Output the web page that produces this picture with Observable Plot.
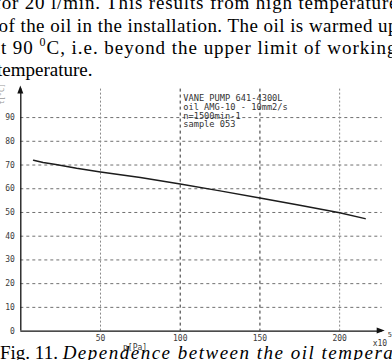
<!DOCTYPE html>
<html>
<head>
<meta charset="utf-8">
<script src="https://cdn.jsdelivr.net/npm/d3@7"></script>
<script src="https://cdn.jsdelivr.net/npm/@observablehq/plot@0.6"></script>
<style>
  html, body { margin: 0; padding: 0; background: #fff; }
  #chart { position: relative; width: 392px; height: 360px; overflow: hidden; }
</style>
</head>
<body>
<div id="chart"></div>
<script>
// --- data ---
const pressure = [8, 14, 22, 35, 50, 75, 100, 125, 150, 175, 200, 216];               // p [Pa] x10^5
const temperature = [72, 71.1, 70.2, 68.6, 67.1, 64.7, 62, 59.1, 56.1, 53, 49.9, 47.4]; // t [°C]
const xTicks = [50, 100, 150, 200];
const yTicks = [0, 10, 20, 30, 40, 50, 60, 70, 80, 90];
const gridY = [10, 20, 30, 40, 50, 60, 70, 80, 90];
const gridXDark = [100, 150];
const gridXLight = [50, 200];
const legendLines = ["VANE PUMP 641-4300L", "oil AMG-10 - 10mm2/s", "n=1500min-1", "sample 053"];
const bodyLines = [
  "for 20 l/min. This results from high temperature",
  "of the oil in the installation. The oil is warmed up",
  "at 90 |0|C, i.e. beyond the upper limit of working",
  "temperature."
];
const captionStart = "Fig. 11. ";
const captionRest = "Dependence between the oil temperature";

const data = pressure.map((p, i) => ({p, t: temperature[i]}));
const MONO = "'DejaVu Sans Mono', 'Liberation Mono', monospace";
const SERIF = "'Liberation Serif', 'Times New Roman', serif";

const plot = Plot.plot({
  width: 392,
  height: 360,
  marginLeft: 20.3,
  marginRight: 10.3,
  marginTop: 88.6,
  marginBottom: 29.4,
  style: {fontFamily: MONO, fontSize: "8px", background: "#fff", color: "#3a3a3a"},
  x: {domain: [0, 226.7], ticks: xTicks, tickSize: 0, tickPadding: 4, label: null},
  y: {domain: [0, 102], ticks: yTicks, tickSize: 0, tickPadding: 6, label: null},
  marks: [
    Plot.ruleY(gridY, {stroke: "#707070", strokeDasharray: "3,3", strokeWidth: 1}),
    Plot.ruleX(gridXLight, {stroke: "#8a8a8a", strokeDasharray: "2,2", strokeWidth: 1}),
    Plot.ruleX(gridXDark, {stroke: "#2e2e2e", strokeDasharray: "3,3", strokeWidth: 1}),
    Plot.ruleY([0], {stroke: "#111", strokeWidth: 1.3}),
    Plot.ruleX([0], {stroke: "#111", strokeWidth: 1.3}),
    Plot.line(data, {x: "p", y: "t", stroke: "#1c1c1c", strokeWidth: 1.5})
  ]
});

document.getElementById("chart").appendChild(plot);

const svg = d3.select(plot);
const sx = plot.scale("x").apply, sy = plot.scale("y").apply;
const x0 = sx(0), y0 = sy(0), xTop = sy(102), xEnd = sx(226.7);

// arrowheads on axes
svg.append("path")
  .attr("d", `M${x0},${xTop - 3} L${x0 - 3},${xTop + 5} L${x0 + 3},${xTop + 5} Z`)
  .attr("fill", "#111");
svg.append("path")
  .attr("d", `M${xEnd + 3},${y0} L${xEnd - 5},${y0 - 3} L${xEnd - 5},${y0 + 3} Z`)
  .attr("fill", "#111");

function addText(x, y, str, opts) {
  const t = svg.append("text").attr("x", x).attr("y", y)
    .attr("text-anchor", opts.anchor || "start")
    .style("font-family", opts.family || MONO)
    .style("font-size", (opts.size || 8) + "px")
    .attr("fill", opts.fill || "#3a3a3a");
  if (str != null) t.text(str);
  return t;
}

// legend block (anchored to the x = 100 gridline)
legendLines.forEach((line, i) => {
  addText(sx(100) + 3.5, xTop + 12.4 + i * 8.8, line, {size: 8.7, fill: "#333"});
});

// axis labels
addText(sx(72), y0 + 19, "p[Pa]", {anchor: "middle"});
addText(xEnd - 9, y0 + 15, "x10", {});
addText(xEnd + 6, y0 + 6, "5", {size: 7});
addText(0, 0, "t[°C]", {size: 7, fill: "#999"}).attr("x", null).attr("y", null)
  .attr("transform", `translate(4,${xTop + 16}) rotate(-90)`);

// surrounding page text
const bodyPos = [
  {x: -5.5, y: 9.2, w: 403},
  {x: -1.5, y: 31.6, w: 399},
  {x: -8.5, y: 54, w: 405},
  {x: -3, y: 76.4, w: null}
];
bodyLines.forEach((line, i) => {
  const pos = bodyPos[i];
  const t = addText(pos.x, pos.y, null, {family: SERIF, size: 19, fill: "#000"});
  if (pos.w) t.attr("textLength", pos.w).attr("lengthAdjust", "spacing");
  const parts = line.split("|");
  if (parts.length === 1) {
    t.text(line);
  } else {
    t.append("tspan").text(parts[0]);
    t.append("tspan").attr("dy", -8).style("font-size", "12px").text(parts[1]);
    t.append("tspan").attr("dy", 8).text(parts[2]);
  }
});
const cap = addText(0, 358.5, null, {family: SERIF, size: 19, fill: "#000"});
cap.append("tspan").text(captionStart);
cap.append("tspan").style("font-style", "italic").attr("letter-spacing", 1.5).text(captionRest);
</script>
</body>
</html>
